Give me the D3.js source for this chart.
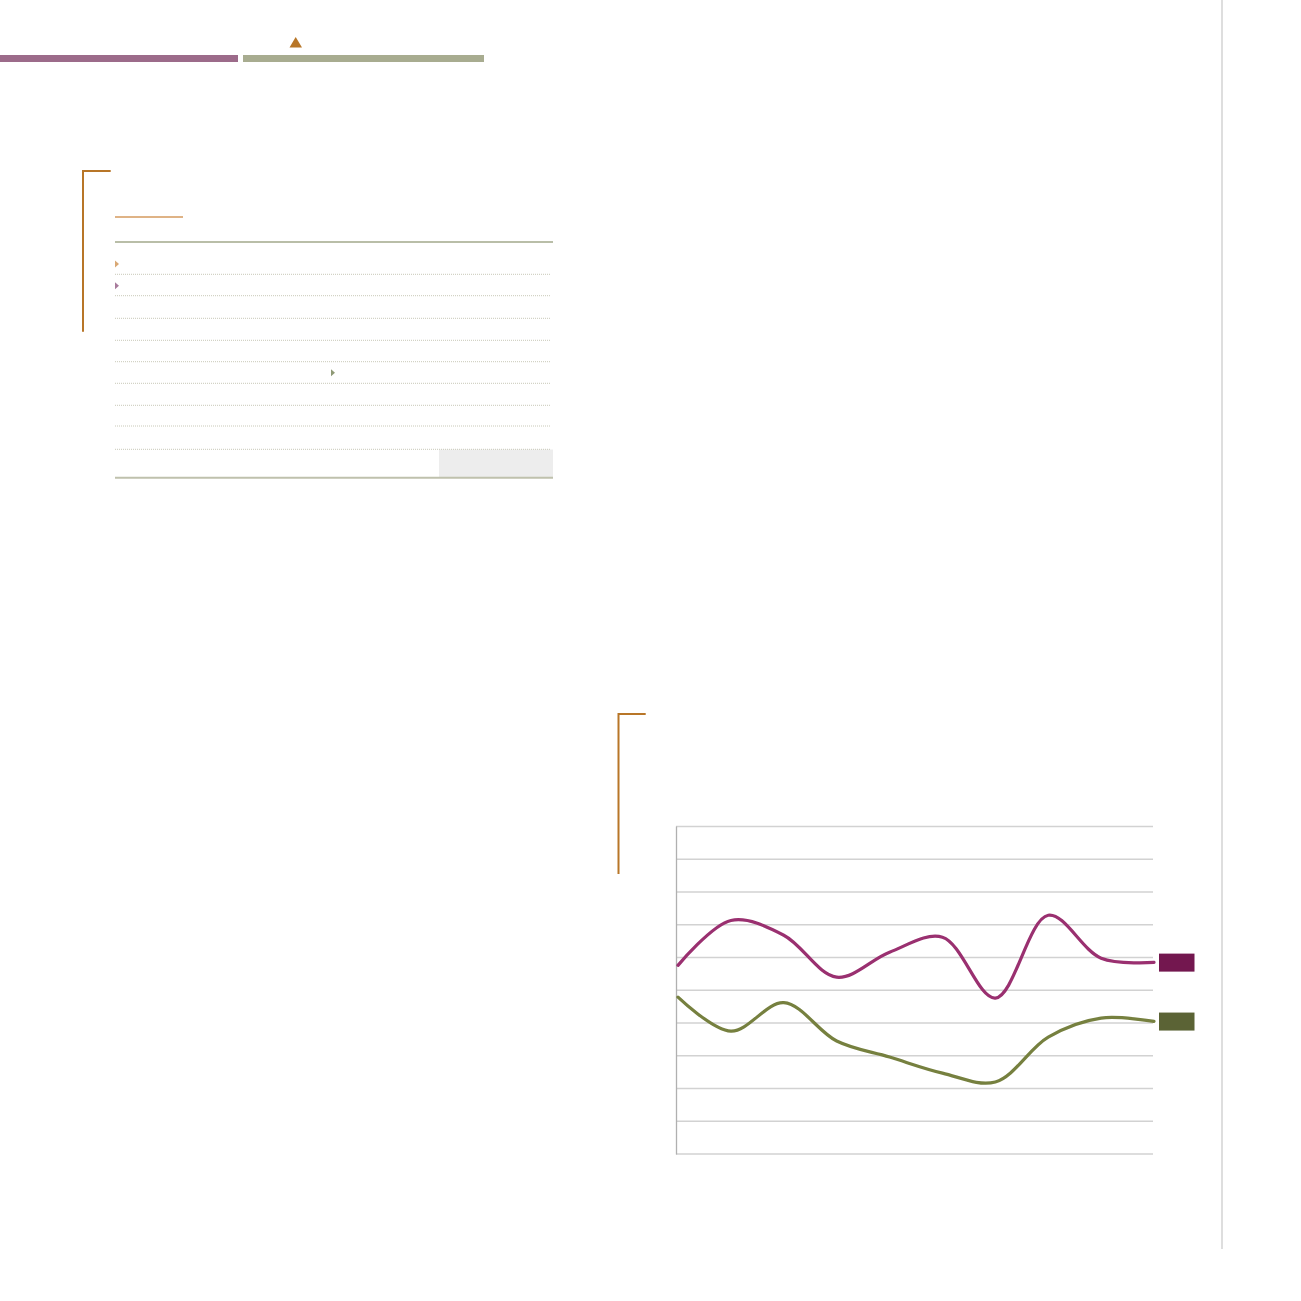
<!DOCTYPE html>
<html><head><meta charset="utf-8">
<script src="https://cdn.jsdelivr.net/npm/d3@7/dist/d3.min.js"></script>
<style>html,body{margin:0;padding:0;background:#fff;}svg{display:block;}</style>
</head><body>
<script>
// Data
const categories = ["1","2","3","4","5","6","7","8","9","10"];
const seriesA = [57.6, 71.3, 66.8, 54.0, 61.6, 66.2, 47.6, 72.9, 59.8, 58.5];
const seriesB = [47.9, 37.5, 46.2, 34.5, 29.6, 24.7, 22.0, 35.7, 41.5, 40.5];
const yTicks = [0,10,20,30,40,50,60,70,80,90,100];
const tableRows = [0,1,2,3,4,5,6,7,8];

const W = 1301, H = 1301;
const svg = d3.select("body").append("svg").attr("width", W).attr("height", H);

// Page decorations
svg.append("rect").attr("x",0).attr("y",55).attr("width",238).attr("height",7).attr("fill","#9c6b8a");
svg.append("rect").attr("x",243).attr("y",55).attr("width",241).attr("height",7).attr("fill","#a8ac90");
svg.append("path").attr("d","M289.5,47.5 L295.7,37 L302,47.5 Z").attr("fill","#b87628");
svg.append("rect").attr("x",1221).attr("y",0).attr("width",2).attr("height",1249).attr("fill","#dedede");

// Bracket top-left
svg.append("path").attr("d","M110.7,171 H83 V331.7").attr("fill","none").attr("stroke","#b87628").attr("stroke-width",2);
// Table
svg.append("line").attr("x1",115).attr("x2",183).attr("y1",217).attr("y2",217).attr("stroke","#d49a5e").attr("stroke-width",1.5);
svg.append("line").attr("x1",115).attr("x2",553).attr("y1",242).attr("y2",242).attr("stroke","#b9bea8").attr("stroke-width",2);
const rowY = [274.3, 295.7, 318.3, 340.3, 361.7, 383.3, 405.3, 426, 449.3];
svg.append("rect").attr("x",439).attr("y",449.5).attr("width",114).attr("height",27.5).attr("fill","#ededed");
svg.selectAll("line.row").data(tableRows).enter().append("line").attr("class","row")
  .attr("x1",115).attr("x2",550).attr("y1",d=>rowY[d]).attr("y2",d=>rowY[d])
  .attr("stroke","#c9c9b8").attr("stroke-width",1).attr("stroke-dasharray","1,1");
svg.append("line").attr("x1",115).attr("x2",553).attr("y1",477.8).attr("y2",477.8).attr("stroke","#bfc1ad").attr("stroke-width",2);
const tris = [{x:115,y:264,c:"#d9a874"},{x:115,y:285.7,c:"#a87b9c"},{x:331,y:372.7,c:"#8f9a76"}];
svg.selectAll("path.tri").data(tris).enter().append("path").attr("class","tri")
  .attr("d",d=>`M${d.x},${d.y-3.5} L${d.x+4},${d.y} L${d.x},${d.y+3.5} Z`).attr("fill",d=>d.c);

// Chart bracket
svg.append("path").attr("d","M645.7,714 H618.5 V874").attr("fill","none").attr("stroke","#b87628").attr("stroke-width",2);

// Chart
const x = d3.scalePoint().domain(categories).range([678, 1154]);
const y = d3.scaleLinear().domain([0,100]).range([1154, 826.5]);
const g = svg.append("g");
g.selectAll("line.grid").data(yTicks).enter().append("line").attr("class","grid")
  .attr("x1",676).attr("x2",1153).attr("y1",d=>y(d)).attr("y2",d=>y(d))
  .attr("stroke","#d2d2d2").attr("stroke-width",1.5);
g.append("line").attr("x1",676.5).attr("x2",676.5).attr("y1",y(100)).attr("y2",y(0)+0.5)
  .attr("stroke","#b0b0b0").attr("stroke-width",1.3);

const line = d3.line().x((d,i)=>x(categories[i])).y(d=>y(d)).curve(d3.curveCatmullRom.alpha(0.5));
g.append("path").datum(seriesB).attr("d",line).attr("fill","none").attr("stroke","#76803f").attr("stroke-width",3.2).attr("stroke-linecap","round");
g.append("path").datum(seriesA).attr("d",line).attr("fill","none").attr("stroke","#9a3070").attr("stroke-width",3.2).attr("stroke-linecap","round");

// Legend swatches next to line ends
const legend = [{v:seriesA[seriesA.length-1], c:"#73174f"},{v:seriesB[seriesB.length-1], c:"#5b6335"}];
g.selectAll("rect.sw").data(legend).enter().append("rect").attr("class","sw")
  .attr("x",1159).attr("y",d=>y(d.v)-8.8).attr("width",35.5).attr("height",18).attr("fill",d=>d.c);
</script>
</body></html>
